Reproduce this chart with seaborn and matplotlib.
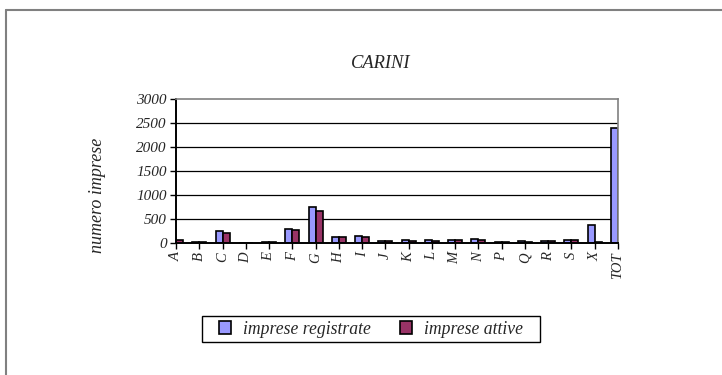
import matplotlib
matplotlib.use("Agg")
import matplotlib.pyplot as plt
import seaborn as sns
import pandas as pd
from matplotlib.lines import Line2D
from matplotlib.patches import Rectangle

categories = ["A", "B", "C", "D", "E", "F", "G", "H", "I", "J", "K", "L",
              "M", "N", "P", "Q", "R", "S", "X", "TOT"]
registrate = [80, 15, 250, 2, 25, 300, 750, 135, 150, 45, 55, 55,
              60, 75, 25, 35, 40, 70, 380, 2400]
attive = [70, 12, 210, 1, 20, 265, 670, 120, 130, 40, 50, 50,
          55, 60, 20, 30, 35, 60, 15, 0]
series_names = ["imprese registrate", "imprese attive"]
yticks = [0, 500, 1000, 1500, 2000, 2500, 3000]

df = pd.DataFrame({
    "cat": categories * 2,
    "val": registrate + attive,
    "serie": [series_names[0]] * len(categories) + [series_names[1]] * len(categories),
})

sns.set_theme(style="white")
plt.rcParams["font.family"] = ["Liberation Serif", "DejaVu Serif"]
plt.rcParams["font.style"] = "italic"

fig = plt.figure(figsize=(7.22, 3.75), dpi=100)
ax = fig.add_axes([176 / 722, 1 - 243 / 375, (618 - 176) / 722, (243 - 99) / 375])

palette = {series_names[0]: "#9999FF", series_names[1]: "#993366"}
sns.barplot(data=df, x="cat", y="val", hue="serie", palette=palette, ax=ax,
            width=0.6, edgecolor="black", linewidth=1.2, saturation=1,
            dodge=True, legend=True)

ax.set_xlim(0, len(categories) - 1)
ax.set_ylim(0, 3000)
ax.set_yticks(yticks)
ax.set_yticklabels([str(v) for v in yticks], fontsize=11, style="italic")
ax.set_xticks(range(len(categories)))
ax.set_xticklabels(categories, rotation=90, fontsize=10.5, style="italic")
ax.set_xlabel("")
ax.set_ylabel("numero imprese", fontsize=13, style="italic")
ax.yaxis.set_label_coords((106 - 176) / 442, (243 - 195) / 144)

for v in yticks[1:-1]:
    ax.axhline(v, color="black", lw=0.9, zorder=0)

ax.tick_params(axis="both", which="both", direction="out", length=4.5, width=1,
               color="black", bottom=True, left=True, pad=2)
ax.spines["left"].set_color("black")
ax.spines["left"].set_linewidth(1.4)
ax.spines["bottom"].set_color("black")
ax.spines["bottom"].set_linewidth(1.4)
ax.spines["top"].set_color("#808080")
ax.spines["top"].set_linewidth(1.2)
ax.spines["right"].set_color("#808080")
ax.spines["right"].set_linewidth(1.2)

fig.text(381 / 722, 1 - 64 / 375, "CARINI", ha="center", va="center",
         fontsize=13.3, style="italic")

handles, labels = ax.get_legend_handles_labels()
ax.get_legend().remove()
leg = fig.legend(handles, labels, loc="center", bbox_to_anchor=(371 / 722, 1 - 329 / 375),
                 ncol=2, frameon=False,
                 prop={"family": "Liberation Serif", "style": "italic", "size": 12.7},
                 handlelength=0.7, handleheight=0.7, columnspacing=1.6,
                 borderpad=0.3, handletextpad=0.7)
# legend box
fig.add_artist(Rectangle((202 / 722, 1 - 342 / 375), (540 - 202) / 722, 26 / 375,
                         transform=fig.transFigure, fill=False, edgecolor="black",
                         lw=1.0))

# outer frame (top and left visible)
fig.add_artist(Line2D([6 / 722, 1.0], [1 - 10 / 375, 1 - 10 / 375],
                      transform=fig.transFigure, color="#808080", lw=1.5))
fig.add_artist(Line2D([6 / 722, 6 / 722], [0, 1 - 10 / 375],
                      transform=fig.transFigure, color="#808080", lw=1.5))

fig.savefig("out.png", dpi=100)
